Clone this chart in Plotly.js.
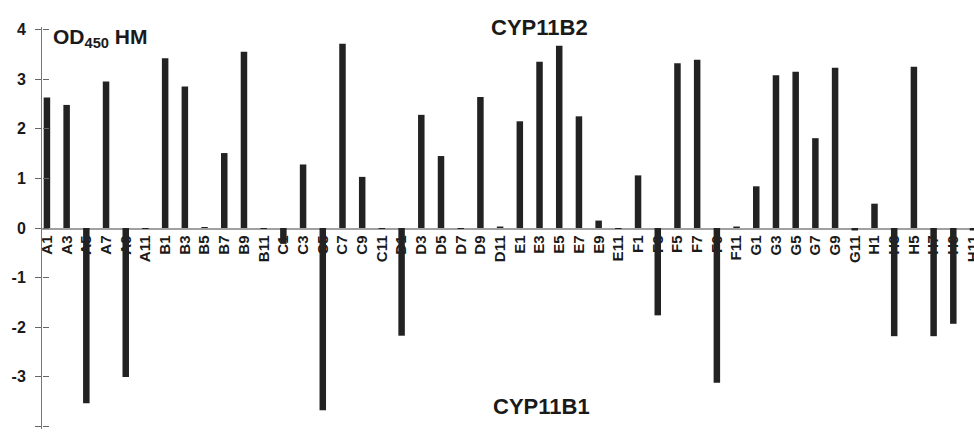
<!DOCTYPE html>
<html>
<head>
<meta charset="utf-8">
<script src="https://cdn.plot.ly/plotly-3.0.1.min.js"></script>
<style>html,body{margin:0;padding:0;background:#fff;}#chart{width:974px;height:433px;}</style>
</head>
<body>
<div id="chart"></div>
<script>
// Wells (odd columns of a 96-well plate)
var wells = ["A1","A3","A5","A7","A9","A11",
             "B1","B3","B5","B7","B9","B11",
             "C1","C3","C5","C7","C9","C11",
             "D1","D3","D5","D7","D9","D11",
             "E1","E3","E5","E7","E9","E11",
             "F1","F3","F5","F7","F9","F11",
             "G1","G3","G5","G7","G9","G11",
             "H1","H3","H5","H7","H9","H11"];
// OD450 HM: positive = CYP11B2, negative = CYP11B1
var od450 = [2.63, 2.48, -3.53, 2.95, -3.00, -0.02,
             3.42, 2.85, 0.02, 1.51, 3.55, -0.02,
             -0.32, 1.28, -3.67, 3.71, 1.03, -0.02,
             -2.17, 2.28, 1.45, -0.02, 2.64, 0.03,
             2.15, 3.35, 3.67, 2.25, 0.15, -0.02,
             1.06, -1.76, 3.32, 3.39, -3.12, 0.03,
             0.84, 3.08, 3.15, 1.81, 3.23, -0.05,
             0.49, -2.18, 3.25, -2.18, -1.93, -0.05];
var yTicks = [4, 3, 2, 1, 0, -1, -2, -3, -4];

var trace = {
  type: "bar",
  x: wells,
  y: od450,
  width: 0.33,
  marker: {color: "#222222", line: {width: 0}},
  hoverinfo: "x+y"
};

var yRange = [-4.05, 4.05];

var layout = {
  width: 974,
  height: 433,
  margin: {l: 42, r: 0, t: 27, b: 4},
  paper_bgcolor: "#ffffff",
  plot_bgcolor: "#ffffff",
  showlegend: false,
  font: {family: "Liberation Sans, Arial, sans-serif", color: "#222"},
  xaxis: {
    type: "category",
    range: [-0.25, 47.05],
    anchor: "free",
    position: 0.5,
    showline: true,
    linecolor: "#a0a0a0",
    linewidth: 1.5,
    ticks: "",
    tickangle: -90,
    tickfont: {size: 15, weight: "bold", color: "#1a1a1a"},
    showgrid: false,
    zeroline: false,
    layer: "below traces",
    fixedrange: true
  },
  yaxis: {
    range: yRange,
    tickvals: yTicks,
    ticktext: yTicks.map(String),
    ticks: "outside",
    ticklen: 6,
    tickcolor: "#666",
    ticklabelstandoff: 6,
    showline: true,
    linecolor: "#777",
    linewidth: 1,
    showgrid: false,
    zeroline: false,
    tickfont: {size: 16, weight: "bold", color: "#1a1a1a"},
    fixedrange: true
  },
  yaxis2: {
    range: yRange,
    overlaying: "y",
    anchor: "free",
    position: 0,
    side: "right",
    tickvals: yTicks,
    ticks: "outside",
    ticklen: 6,
    tickcolor: "#666",
    showticklabels: false,
    showline: false,
    showgrid: false,
    zeroline: false,
    fixedrange: true
  },
  annotations: [
    {text: "<b>OD<sub>450</sub> HM</b>", xref: "paper", yref: "paper", x: 0.01, y: 1.01,
     xanchor: "left", yanchor: "top", showarrow: false, font: {size: 21, color: "#1a1a1a"}},
    {text: "<b>CYP11B2</b>", xref: "paper", yref: "paper", x: 0.534, y: 1.0,
     xanchor: "center", yanchor: "middle", showarrow: false, font: {size: 22, color: "#1a1a1a"}},
    {text: "<b>CYP11B1</b>", xref: "paper", yref: "paper", x: 0.536, y: 0.055,
     xanchor: "center", yanchor: "middle", showarrow: false, font: {size: 22, color: "#1a1a1a"}}
  ]
};

// invisible helper trace so the crossing-tick axis is drawn
var tickAxisTrace = {type: "scatter", mode: "markers", x: [wells[0]], y: [null],
                     yaxis: "y2", hoverinfo: "skip", showlegend: false};

Plotly.newPlot("chart", [trace, tickAxisTrace], layout, {displayModeBar: false, staticPlot: true});
</script>
</body>
</html>
